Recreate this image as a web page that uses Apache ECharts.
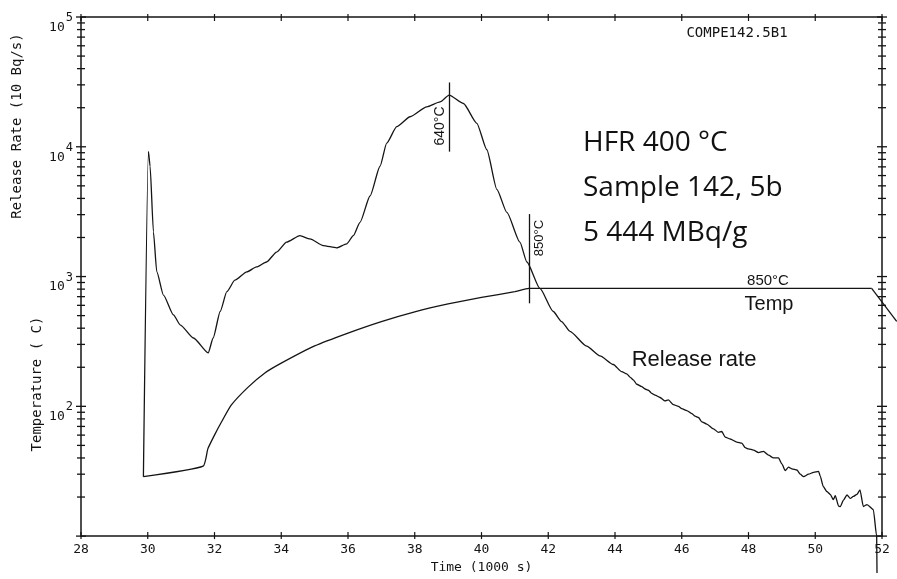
<!DOCTYPE html>
<html><head><meta charset="utf-8">
<script src="https://cdn.jsdelivr.net/npm/echarts@6/dist/echarts.min.js"></script>
<style>html,body{margin:0;padding:0;background:#fff}#c{width:897px;height:579px}</style>
</head><body><div id="c"></div>
<script>
// ---- data ----
const xTicks = [28,30,32,34,36,38,40,42,44,46,48,50,52];
const yDecades = [10,100,1000,10000,100000];
const yMinorTicks = [20,30,40,50,60,70,80,90,200,300,400,500,600,700,800,900,
  2000,3000,4000,5000,6000,7000,8000,9000,20000,30000,40000,50000,60000,70000,80000,90000];

const releaseTime = [29.87,30.02,30.07,30.17,30.27,30.47,30.77,30.97,31.37,31.81,31.96,32.17,32.37,32.61,32.97,33.26,33.56,33.86,34.16,34.56,34.86,35.26,35.66,35.96,36.16,36.36,36.66,36.96,37.16,37.46,37.86,38.36,38.76,39.03,39.46,39.86,40.16,40.46,40.76,41.15,41.36,41.75,42.15,42.40,42.65,43.15,43.55,43.95,
  44.20,44.35,44.45,44.55,44.65,44.80,44.90,45.00,45.10,45.20,45.35,45.50,45.60,45.75,45.90,46.00,46.15,46.30,46.40,46.50,46.60,46.75,46.95,47.10,47.20,47.30,47.45,47.65,47.80,47.90,48.00,48.15,48.30,48.45,48.60,48.75,48.90,49.00,49.10,49.20,49.30,49.45,49.55,49.65,49.80,49.95,50.10,50.15,50.24,50.35,50.45,50.54,50.60,50.70,50.75,50.85,50.95,51.05,51.14,51.25,51.34,51.44,51.55,51.74,51.84,51.85];
const releaseRate = [28.7,9200,7080,2210,1090,720,507,425,336,258,336,538,764,937,1086,1186,1295,1544,1841,2066,1950,1733,1665,1786,2066,2616,4176,7080,10670,14290,17030,20320,22180,25000,21560,15170,9485,4700,3118,1841,1295,810,538,450,378,291,245,210,
  185,178,168,160,148,142,136,133,126,122,117,110,112,103,100,96,92.7,88,84,82,76,73,67,63,64,58,56,53,52,48,47,46,44,45,42,40,40,36,32,34,33,32.3,30,28.7,30,31,31.5,29,24.1,22,21,19.1,20.5,17,16.9,19,20.8,19.5,20.2,21,22.7,16.9,17.5,16,10,5.2];

const tempTime = [29.87,31.66,31.80,32.00,32.20,32.50,33.00,33.50,34.00,35.00,36.00,37.00,38.00,39.00,40.00,41.00,41.42,51.69,52.44];
const tempValue = [28.7,34.6,47,60,75,102,140,180,215,292,367,450,535,615,690,765,810,810,451];

const markerTime = [39.03, 41.42];
const markerLow = [9170, 622];
const markerHigh = [31300, 3030];

const infoLines = ['HFR 400 °C', 'Sample 142, 5b', '5 444 MBq/g'];

// ---- chart ----
const chart = echarts.init(document.getElementById('c'), null, {renderer:'canvas'});
const ink = '#141414';
const mono = 'DejaVu Sans Mono';
const xMin = xTicks[0], xMax = xTicks[xTicks.length-1];
const yMin = yDecades[0], yMax = yDecades[yDecades.length-1];

const releaseData = releaseTime.map((t,i)=>[t, releaseRate[i]]);
const tempData = tempTime.map((t,i)=>[t, tempValue[i]]);
const tempInside = tempData.filter(d=>d[0] <= xMax);
// segments that leave the x range (drawn with the axis scale, extrapolated past the frame)
const tempTail = [];
for (let i=1;i<tempData.length;i++) if (tempData[i][0] > xMax) tempTail.push([tempData[i-1][0], tempData[i-1][1], tempData[i][0], tempData[i][1]]);
const yTickData = yDecades.map(v=>[xMin, v, 1]).concat(yMinorTicks.map(v=>[xMin, v, 0]));
const xTickData = xTicks.map(v=>[v, yMin]);

function xPix(api, x, v){
  // pixel x via the axis scale, linear extension past the max
  const a = api.coord([xMin, v])[0], b = api.coord([xMax, v])[0];
  return a + (x - xMin) * (b - a) / (xMax - xMin);
}

const option = {
  animation:false,
  backgroundColor:'#fff',
  grid:{left:81, right:15, top:17, bottom:39},
  xAxis:[{
    type:'value', min:xMin, max:xMax, interval:2, position:'bottom',
    axisLine:{show:true, lineStyle:{color:ink, width:1.5}},
    axisTick:{show:false}, splitLine:{show:false},
    axisLabel:{fontFamily:mono, fontSize:13, color:ink, margin:7},
    name:'Time (1000 s)', nameLocation:'middle', nameGap:24,
    nameTextStyle:{fontFamily:mono, fontSize:13, color:ink}
  },{
    type:'value', min:xMin, max:xMax, position:'top',
    axisLine:{show:true, lineStyle:{color:ink, width:1.5}},
    axisTick:{show:false}, axisLabel:{show:false}, splitLine:{show:false}
  }],
  yAxis:[{
    type:'log', logBase:10, min:yMin, max:yMax, position:'left',
    axisLine:{show:true, lineStyle:{color:ink, width:1.5}},
    axisTick:{show:false}, splitLine:{show:false}, minorTick:{show:false},
    axisLabel:{
      margin:8, color:ink,
      formatter:function(v){ if(v<=yMin*1.01) return ''; const e=Math.round(Math.log10(v)); return '{b|10}{s|'+e+'}'; },
      rich:{
        b:{fontFamily:mono, fontSize:13, color:ink, lineHeight:34, verticalAlign:'bottom'},
        s:{fontFamily:mono, fontSize:12, color:ink, lineHeight:34, verticalAlign:'top', padding:[12,0,0,1]}
      }
    }
  },{
    type:'log', logBase:10, min:yMin, max:yMax, position:'right',
    axisLine:{show:true, lineStyle:{color:ink, width:1.5}},
    axisTick:{show:false}, axisLabel:{show:false}, splitLine:{show:false}
  }],
  series:[
    {
      type:'line', name:'Release rate', data:releaseData, showSymbol:false, symbol:'none',
      smooth:0.2, smoothMonotone:'x', clip:false,
      lineStyle:{color:ink, width:1.3},
      markLine:{
        silent:true, symbol:['none','none'], label:{show:false},
        lineStyle:{color:ink, width:1.3, type:'solid'},
        data: markerTime.map((t,i)=>[{coord:[t, markerLow[i]]},{coord:[t, markerHigh[i]]}])
      }
    },
    {
      type:'line', name:'Temp', data:tempInside, showSymbol:false, symbol:'none',
      smooth:0.15, clip:false,
      lineStyle:{color:ink, width:1.3}
    },
    {
      type:'custom', name:'Temp tail', coordinateSystem:'cartesian2d', data:tempTail, clip:false, silent:true,
      encode:{x:0, y:1},
      renderItem:function(params, api){
        const x1 = api.value(0), v1 = api.value(1), x2 = api.value(2), v2 = api.value(3);
        const p1 = api.coord([x1, v1]);
        const y2 = api.coord([xMin, v2])[1];
        return {type:'line', shape:{x1:p1[0], y1:p1[1], x2:xPix(api, x2, v2), y2:y2}, style:{stroke:ink, lineWidth:1.3}};
      }
    },
    {
      type:'custom', coordinateSystem:'cartesian2d', data:yTickData, clip:false, silent:true,
      renderItem:function(params, api){
        const v = api.value(1);
        const pL = api.coord([xMin, v]); const pR = api.coord([xMax, v]);
        const len = api.value(2) ? 5 : 4;
        return {type:'group', children:[
          {type:'line', shape:{x1:pL[0]-len, y1:pL[1], x2:pL[0]+len, y2:pL[1]}, style:{stroke:ink, lineWidth:1.3}},
          {type:'line', shape:{x1:pR[0]-len, y1:pR[1], x2:pR[0]+len, y2:pR[1]}, style:{stroke:ink, lineWidth:1.3}}
        ]};
      }
    },
    {
      type:'custom', coordinateSystem:'cartesian2d', data:xTickData, clip:false, silent:true,
      renderItem:function(params, api){
        const v = api.value(0);
        const pB = api.coord([v, yMin]); const pT = api.coord([v, yMax]);
        return {type:'group', children:[
          {type:'line', shape:{x1:pB[0], y1:pB[1]-4, x2:pB[0], y2:pB[1]+3}, style:{stroke:ink, lineWidth:1.2}},
          {type:'line', shape:{x1:pT[0], y1:pT[1]-3, x2:pT[0], y2:pT[1]+4}, style:{stroke:ink, lineWidth:1.2}}
        ]};
      }
    }
  ],
  graphic:[
    {type:'text', x:17, y:126, rotation:Math.PI/2, style:{text:'Release Rate (10 Bq/s)', font:'14px "DejaVu Sans Mono"', fill:ink, align:'center', verticalAlign:'middle'}},
    {type:'text', x:37, y:384, rotation:Math.PI/2, style:{text:'Temperature ( C)', font:'14px "DejaVu Sans Mono"', fill:ink, align:'center', verticalAlign:'middle'}},
    {type:'text', x:737, y:33, style:{text:'COMPE142.5B1', font:'14px "DejaVu Sans Mono"', fill:ink, align:'center', verticalAlign:'middle'}},
    {type:'text', x:583, y:143, style:{text:infoLines[0], font:'28px "Open Sans"', fill:'#111', align:'left', verticalAlign:'middle'}},
    {type:'text', x:583, y:188, style:{text:infoLines[1], font:'28px "Open Sans"', fill:'#111', align:'left', verticalAlign:'middle'}},
    {type:'text', x:583, y:233, style:{text:infoLines[2], font:'28px "Open Sans"', fill:'#111', align:'left', verticalAlign:'middle'}},
    {type:'text', x:768, y:281, style:{text:'850°C', font:'15px "Liberation Sans"', fill:ink, align:'center', verticalAlign:'middle'}},
    {type:'text', x:769, y:304, style:{text:'Temp', font:'20px "Liberation Sans"', fill:ink, align:'center', verticalAlign:'middle'}},
    {type:'text', x:694, y:360, style:{text:'Release rate', font:'22px "Liberation Sans"', fill:ink, align:'center', verticalAlign:'middle'}},
    {type:'text', x:440, y:126, rotation:Math.PI/2, style:{text:'640°C', font:'14px "Liberation Sans"', fill:ink, align:'center', verticalAlign:'middle'}},
    {type:'text', x:539, y:238, rotation:Math.PI/2, style:{text:'850°C', font:'13px "Liberation Sans"', fill:ink, align:'center', verticalAlign:'middle'}}
  ]
};
chart.setOption(option);
</script>
</body></html>
